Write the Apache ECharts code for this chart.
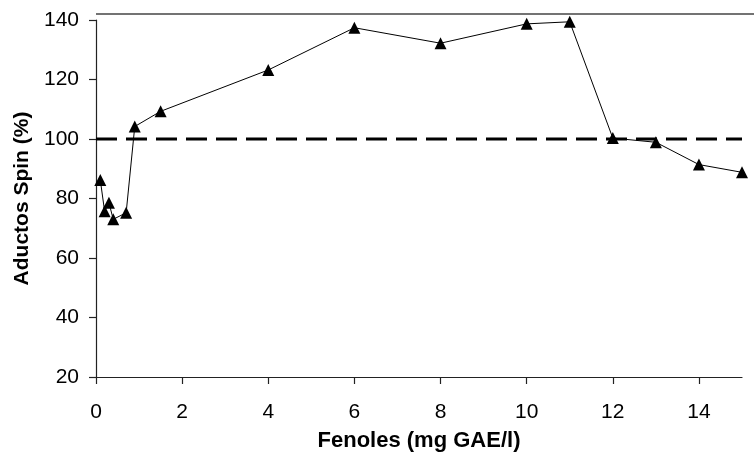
<!DOCTYPE html>
<html>
<head>
<meta charset="utf-8">
<script src="https://cdn.jsdelivr.net/npm/echarts@6/dist/echarts.min.js"></script>
<style>html,body{margin:0;padding:0;background:#fff}#c{width:754px;height:457px}</style>
</head>
<body>
<div id="c"></div>
<script>
var fenoles = [0.1, 0.2, 0.3, 0.4, 0.7, 0.9, 1.5, 4, 6, 8, 10, 11, 12, 13, 14, 15];
var aductos = [86.2, 75.7, 78.6, 73.0, 75.2, 104.2, 109.3, 123.2, 137.4, 132.2, 138.7, 139.4, 100.3, 98.9, 91.4, 88.8];
var refX = [0, 15];
var refY = [100, 100];
var xTitle = 'Fenoles (mg GAE/l)';
var yTitle = 'Aductos Spin (%)';

var chart = echarts.init(document.getElementById('c'), null, {renderer: 'canvas'});
var font = 'Liberation Sans, Arial, sans-serif';
chart.setOption({
  backgroundColor: '#fff',
  animation: false,
  grid: {left: 96, right: 12, top: 20, bottom: 79},
  graphic: [{
    type: 'line', shape: {x1: 96, y1: 14, x2: 754, y2: 14},
    style: {stroke: '#444', lineWidth: 1.5}
  }],
  xAxis: {
    type: 'value', min: 0, max: 15, interval: 2,
    name: xTitle, nameLocation: 'middle', nameGap: 53,
    nameTextStyle: {fontFamily: font, fontSize: 22, fontWeight: 'bold', color: '#000'},
    axisLine: {show: true, onZero: false, lineStyle: {color: '#222', width: 1.2}},
    axisTick: {show: true, length: 7, inside: false, lineStyle: {color: '#222', width: 1.2}},
    axisLabel: {fontFamily: font, fontSize: 21, color: '#000', margin: 25, showMaxLabel: false},
    splitLine: {show: false}
  },
  yAxis: {
    type: 'value', min: 20, max: 140, interval: 20,
    name: yTitle, nameLocation: 'middle', nameGap: 63, nameRotate: 90,
    nameTextStyle: {fontFamily: font, fontSize: 21, fontWeight: 'bold', color: '#000'},
    axisLine: {show: true, lineStyle: {color: '#222', width: 1.2}},
    axisTick: {show: true, length: 7, lineStyle: {color: '#222', width: 1.2}},
    axisLabel: {fontFamily: font, fontSize: 21, color: '#000', margin: 17},
    splitLine: {show: false}
  },
  series: [{
    type: 'line',
    data: refX.map(function(x, i){ return [x, refY[i]]; }),
    symbol: 'none',
    lineStyle: {color: '#000', width: 3, type: [21, 9]},
    z: 1
  }, {
    type: 'line',
    data: fenoles.map(function(x, i){ return [x, aductos[i]]; }),
    symbol: 'triangle', symbolSize: 12,
    itemStyle: {color: '#000'},
    lineStyle: {color: '#000', width: 1},
    z: 3
  }]
});
</script>
</body>
</html>
